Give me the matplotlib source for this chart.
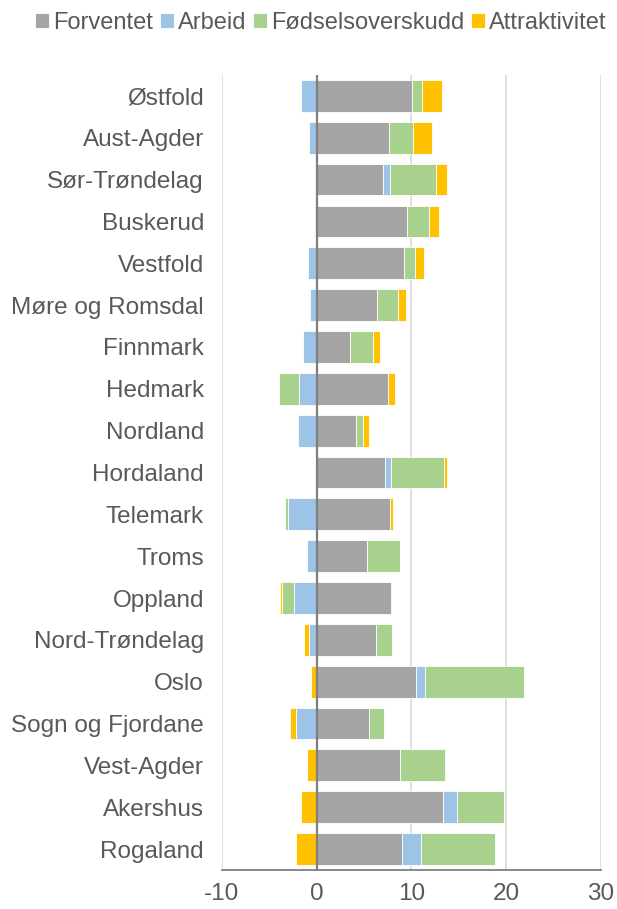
import matplotlib.pyplot as plt
import numpy as np

# ---------------------------------------------------------------------------
# Data, top to bottom
# ---------------------------------------------------------------------------

fylker = [
    "Østfold", "Aust-Agder", "Sør-Trøndelag", "Buskerud", "Vestfold",
    "Møre og Romsdal", "Finnmark", "Hedmark", "Nordland", "Hordaland",
    "Telemark", "Troms", "Oppland", "Nord-Trøndelag", "Oslo",
    "Sogn og Fjordane", "Vest-Agder", "Akershus", "Rogaland",
]
forventet = [10.05, 7.66, 7.03, 9.56, 9.21, 6.40, 3.55, 7.56, 4.15, 7.21,
             7.70, 5.31, 7.84, 6.26, 10.44, 5.55, 8.75, 13.36, 9.03]
arbeid = [-1.69, -0.84, 0.70, -0.14, -0.95, -0.70, -1.48, -1.90, -1.93, 0.67,
          -3.06, -1.05, -2.36, -0.84, 0.95, -2.18, 0.0, 1.48, 1.93]
fodsel = [1.02, 2.46, 4.89, 2.25, 1.20, 2.21, 2.35, -2.04, 0.70, 5.52,
          -0.32, 3.51, -1.27, 1.69, 10.47, 1.51, 4.78, 4.92, 7.87]
attrakt = [2.14, 2.07, 1.12, 1.09, 0.95, 0.81, 0.77, 0.67, 0.67, 0.39,
           0.32, 0.0, -0.25, -0.49, -0.56, -0.63, -1.05, -1.65, -2.21]

series = [
    ("Forventet", forventet, "#A5A5A5"),
    ("Arbeid", arbeid, "#9DC3E6"),
    ("Fødselsoverskudd", fodsel, "#A9D18E"),
    ("Attraktivitet", attrakt, "#FFC000"),
]

TEXT = "#595959"
plt.rcParams["font.family"] = ["Liberation Sans", "DejaVu Sans"]
plt.rcParams["axes.unicode_minus"] = False

fig = plt.figure(figsize=(6.17, 9.09), dpi=100)
ax = fig.add_axes([0.3598, 0.0429, 0.6142, 0.8746])

y = np.arange(len(fylker))
pos_base = np.zeros(len(fylker))
neg_base = np.zeros(len(fylker))

# Excel-style stacking: positives and negatives stack separately
for name, vals, color in series:
    v = np.array(vals)
    left = np.where(v >= 0, pos_base, neg_base)
    ax.barh(y, v, left=left, height=0.76, color=color,
            edgecolor="white", linewidth=0.6, label=name, zorder=3)
    pos_base += np.where(v >= 0, v, 0)
    neg_base += np.where(v < 0, v, 0)

ax.set_xlim(-10, 30)
ax.set_ylim(len(fylker) - 0.5, -0.5)
ax.set_xticks([-10, 0, 10, 20, 30])
ax.set_yticks(y)
ax.set_yticklabels(fylker)
ax.tick_params(axis="both", length=0, colors=TEXT, labelsize=17.5)
ax.tick_params(axis="y", pad=13)
ax.tick_params(axis="x", pad=9)

ax.grid(axis="x", color="#D9D9D9", linewidth=1.2, zorder=0)
ax.axvline(0, color="#7F7F7F", linewidth=1.6, zorder=4)
for side in ["top", "right", "left"]:
    ax.spines[side].set_visible(False)
ax.spines["bottom"].set_color("#7F7F7F")
ax.spines["bottom"].set_linewidth(1.3)

handles, labels = ax.get_legend_handles_labels()
fig.legend(handles, labels, loc="center", bbox_to_anchor=(0.52, 0.975),
           ncol=4, frameon=False, fontsize=17, handlelength=0.6,
           handleheight=0.6, handletextpad=0.15, columnspacing=0.3,
           labelcolor=TEXT)

fig.savefig("out.png", dpi=100)
